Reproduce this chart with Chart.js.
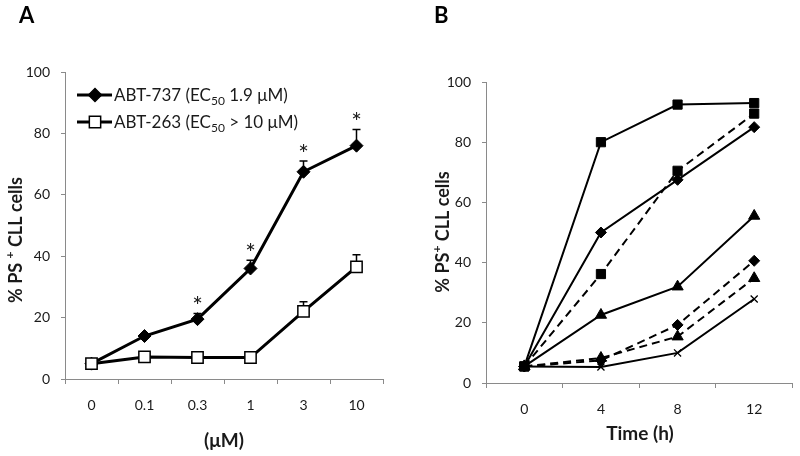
<!DOCTYPE html>
<html>
<head>
<meta charset="utf-8">
<script src="https://cdn.jsdelivr.net/npm/chart.js@4.4.1/dist/chart.umd.min.js"></script>
<style>
  html, body { margin: 0; padding: 0; background: #fff; }
  #wrap { position: relative; width: 800px; height: 456px; overflow: hidden; }
  canvas { position: absolute; top: 0; }
  #cA { left: 0; }
  #cB { left: 400px; }
</style>
</head>
<body>
<div id="wrap">
  <canvas id="cA" width="400" height="456"></canvas>
  <canvas id="cB" width="400" height="456"></canvas>
</div>
<script>
// ---------- Panel A data ----------
const catsA = ['0', '0.1', '0.3', '1', '3', '10'];
const abt737 = [5, 14, 19.5, 36, 67.5, 76];
const abt737Err = [0, 0, 1.8, 2.7, 3.5, 5.3];
const abt263 = [5, 7.2, 7, 7, 22, 36.5];
const abt263Err = [0, 0, 0, 0, 3.2, 4];
const sigA = [false, false, true, true, true, true];
const legendA = ['ABT-737', 'ABT-263'];
const legendEC = ['1.9 μM)', '> 10 μM)'];

// ---------- Panel B data ----------
const catsB = ['0', '4', '8', '12'];
const bSquareSolid = [5.5, 80, 92.5, 93];
const bSquareDash = [5.5, 36.2, 70.5, 89.5];
const bDiamondSolid = [5.5, 50, 67.5, 85];
const bTriangleSolid = [5.5, 22.6, 32, 55.5];
const bDiamondDash = [5.5, 7.5, 19.3, 40.6];
const bTriangleDash = [5.5, 8.3, 15.4, 34.8];
const bCrossSolid = [5.5, 5.3, 10, 27.9];

const yTicks = [0, 20, 40, 60, 80, 100];

const FONT = 'Lato, "Open Sans", "Liberation Sans", sans-serif';
const AXIS = '#8a8a8a';
const TXT = '#1a1a1a';

function drawRuns(ctx, runs, x, y, angle) {
  ctx.save();
  ctx.translate(x, y);
  ctx.rotate(angle);
  ctx.textBaseline = 'alphabetic';
  ctx.textAlign = 'left';
  let total = 0;
  runs.forEach(r => { ctx.font = r.font; r.w = ctx.measureText(r.text).width; total += r.w; });
  let cx = -total / 2;
  runs.forEach(r => {
    ctx.font = r.font;
    ctx.fillStyle = TXT;
    ctx.fillText(r.text, cx, r.dy || 0);
    cx += r.w;
  });
  ctx.restore();
}

function drawRunsLeft(ctx, runs, x, y) {
  ctx.save();
  ctx.textBaseline = 'alphabetic';
  ctx.textAlign = 'left';
  let cx = x;
  runs.forEach(r => {
    ctx.font = r.font;
    ctx.fillStyle = TXT;
    ctx.fillText(r.text, cx, y + (r.dy || 0));
    cx += ctx.measureText(r.text).width;
  });
  ctx.restore();
}

function axisScales(yWidth, xHeight) {
  return {
    x: {
      type: 'category',
      offset: true,
      grid: { offset: true, drawOnChartArea: false, drawTicks: true, tickLength: 5, color: AXIS, lineWidth: 1 },
      border: { display: true, color: AXIS, width: 1 },
      ticks: { font: { family: FONT, size: 14 }, color: TXT, padding: 13, maxRotation: 0, autoSkip: false },
      afterFit(s) { s.height = xHeight; }
    },
    y: {
      min: 0, max: 100,
      afterBuildTicks(s) { s.ticks = yTicks.map(v => ({ value: v })); },
      grid: { drawOnChartArea: false, drawTicks: true, tickLength: 4, color: AXIS, lineWidth: 1 },
      border: { display: true, color: AXIS, width: 1 },
      ticks: { font: { family: FONT, size: 14 }, color: TXT, padding: 11 },
      afterFit(s) { s.width = yWidth; }
    }
  };
}

// ---------- Panel A ----------
const panelAPlugin = {
  id: 'panelA',
  beforeDatasetsDraw(chart) {
    const ctx = chart.ctx;
    const xs = chart.scales.x, ys = chart.scales.y;
    ctx.save();
    ctx.strokeStyle = '#000';
    ctx.lineWidth = 1.5;
    [[abt737, abt737Err], [abt263, abt263Err]].forEach(([vals, errs]) => {
      vals.forEach((v, i) => {
        if (!errs[i]) return;
        const px = xs.getPixelForValue(i);
        const y0 = ys.getPixelForValue(v);
        const y1 = ys.getPixelForValue(v + errs[i]);
        ctx.beginPath();
        ctx.moveTo(px, y0); ctx.lineTo(px, y1);
        ctx.moveTo(px - 4, y1); ctx.lineTo(px + 4, y1);
        ctx.stroke();
      });
    });
    ctx.restore();
  },
  afterDraw(chart) {
    const ctx = chart.ctx;
    const xs = chart.scales.x, ys = chart.scales.y;
    // significance asterisks
    ctx.save();
    ctx.font = '25px ' + FONT;
    ctx.fillStyle = TXT;
    ctx.textAlign = 'center';
    ctx.textBaseline = 'alphabetic';
    const m = ctx.measureText('*');
    const half = (m.actualBoundingBoxAscent - m.actualBoundingBoxDescent) / 2;
    sigA.forEach((s, i) => {
      if (!s) return;
      const px = xs.getPixelForValue(i);
      const top = ys.getPixelForValue(abt737[i] + abt737Err[i]);
      const cy = top - 14;
      ctx.fillText('*', px, cy + half);
    });
    ctx.restore();

    // panel letter
    ctx.save();
    ctx.font = 'bold 22px ' + FONT;
    ctx.fillStyle = '#000';
    ctx.textBaseline = 'alphabetic';
    ctx.fillText('A', 19, 23);
    ctx.restore();

    // y title
    drawRuns(ctx, [
      { text: '% PS ', font: 'bold 18px ' + FONT },
      { text: '+', font: 'bold 12px ' + FONT, dy: -8 },
      { text: ' CLL cells', font: 'bold 18px ' + FONT }
    ], 22, 240, -Math.PI / 2);

    // x title
    ctx.save();
    ctx.font = 'bold 19px ' + FONT;
    ctx.fillStyle = TXT;
    ctx.textAlign = 'center';
    ctx.textBaseline = 'alphabetic';
    ctx.fillText('(μM)', 224, 447);
    ctx.restore();

    // legend
    const rows = [
      { y: 95, style: 'rectRot', r: 6.5, fill: '#000' },
      { y: 122, style: 'rect', r: 8, fill: '#fff' }
    ];
    rows.forEach((row, k) => {
      ctx.save();
      ctx.strokeStyle = '#000';
      ctx.lineWidth = 3;
      ctx.beginPath();
      ctx.moveTo(77, row.y); ctx.lineTo(112, row.y);
      ctx.stroke();
      ctx.fillStyle = row.fill;
      ctx.strokeStyle = '#000';
      ctx.lineWidth = 1.5;
      Chart.helpers.drawPoint(ctx, { pointStyle: row.style, radius: row.r, rotation: 0, borderWidth: 1.5 }, 95, row.y);
      ctx.restore();
      drawRunsLeft(ctx, [
        { text: legendA[k] + ' (EC', font: '17px ' + FONT },
        { text: '50', font: '12px ' + FONT, dy: 4 },
        { text: ' ' + legendEC[k], font: '17px ' + FONT }
      ], 114, row.y + 6);
    });
  }
};

new Chart(document.getElementById('cA'), {
  type: 'line',
  data: {
    labels: catsA,
    datasets: [
      { label: legendA[0], data: abt737, order: 1, borderColor: '#000', borderWidth: 3, tension: 0,
        pointStyle: 'rectRot', pointRadius: 6.5, pointBackgroundColor: '#000', pointBorderColor: '#000', pointBorderWidth: 1 },
      { label: legendA[1], data: abt263, order: 0, borderColor: '#000', borderWidth: 3, tension: 0,
        pointStyle: 'rect', pointRadius: 8, pointBackgroundColor: '#fff', pointBorderColor: '#000', pointBorderWidth: 1.5 }
    ]
  },
  options: {
    responsive: false, animation: false, devicePixelRatio: 1,
    layout: { padding: { left: 0, right: 17, top: 72, bottom: 0 } },
    plugins: { legend: { display: false }, tooltip: { enabled: false } },
    scales: axisScales(65, 77)
  },
  plugins: [panelAPlugin]
});

// ---------- Panel B ----------
const panelBPlugin = {
  id: 'panelB',
  afterDraw(chart) {
    const ctx = chart.ctx;
    ctx.save();
    ctx.font = 'bold 22px ' + FONT;
    ctx.fillStyle = '#000';
    ctx.textBaseline = 'alphabetic';
    ctx.fillText('B', 34, 23);
    ctx.restore();

    drawRuns(ctx, [
      { text: '% PS', font: 'bold 18px ' + FONT },
      { text: '+', font: 'bold 12px ' + FONT, dy: -8 },
      { text: ' CLL cells', font: 'bold 18px ' + FONT }
    ], 49, 232, -Math.PI / 2);

    ctx.save();
    ctx.font = 'bold 19px ' + FONT;
    ctx.fillStyle = TXT;
    ctx.textAlign = 'center';
    ctx.textBaseline = 'alphabetic';
    ctx.fillText('Time (h)', 240, 440);
    ctx.restore();
  }
};

function ds(data, style, r, dashed, order) {
  return {
    data, order,
    borderColor: '#000', borderWidth: 2, tension: 0,
    borderDash: dashed ? [8, 5] : [],
    pointStyle: style, pointRadius: r,
    pointBackgroundColor: '#000', pointBorderColor: '#000',
    pointBorderWidth: style === 'crossRot' ? 1.3 : 1
  };
}

new Chart(document.getElementById('cB'), {
  type: 'line',
  data: {
    labels: catsB,
    datasets: [
      ds(bSquareSolid, 'rect', 6.5, false, 0),
      ds(bSquareDash, 'rect', 6.5, true, 1),
      ds(bDiamondSolid, 'rectRot', 5.5, false, 2),
      ds(bTriangleSolid, 'triangle', 6.5, false, 3),
      ds(bDiamondDash, 'rectRot', 5.5, true, 4),
      ds(bTriangleDash, 'triangle', 6.5, true, 5),
      ds(bCrossSolid, 'crossRot', 5, false, 6)
    ]
  },
  options: {
    responsive: false, animation: false, devicePixelRatio: 1,
    layout: { padding: { left: 0, right: 6, top: 82, bottom: 0 } },
    plugins: { legend: { display: false }, tooltip: { enabled: false } },
    scales: axisScales(86, 73)
  },
  plugins: [panelBPlugin]
});
</script>
</body>
</html>
